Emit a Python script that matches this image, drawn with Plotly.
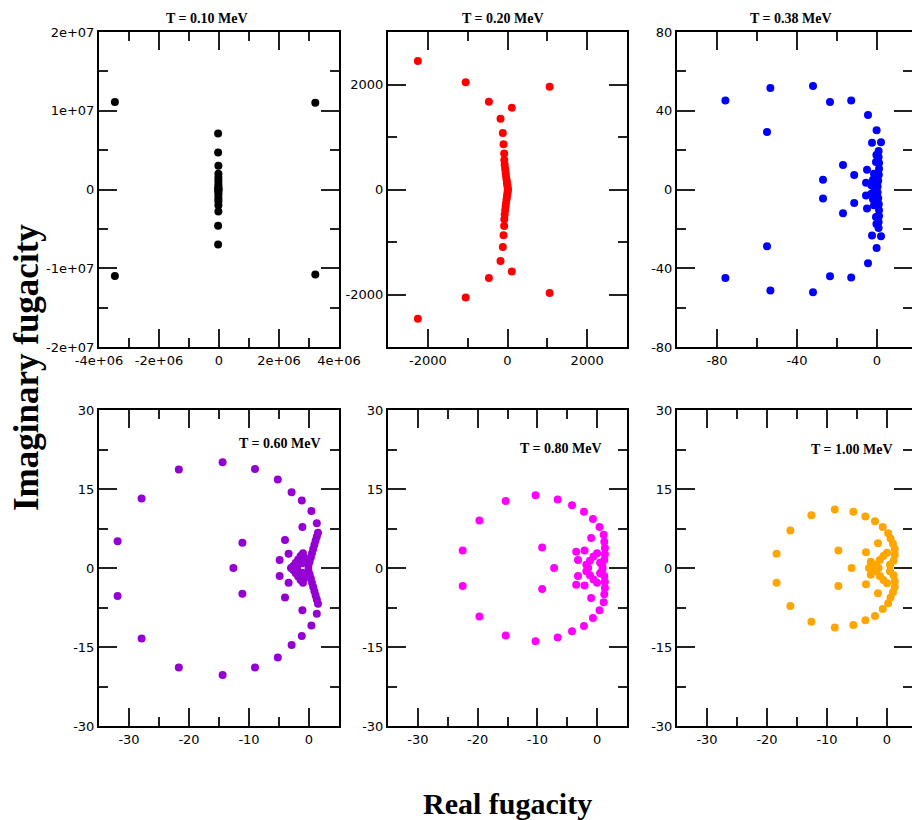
import plotly.graph_objects as go

# ---------------- data ----------------
temps = ["T = 0.10 MeV", "T = 0.20 MeV", "T = 0.38 MeV",
         "T = 0.60 MeV", "T = 0.80 MeV", "T = 1.00 MeV"]
colors = ["#000000", "#ff0000", "#0000ff", "#9400d3", "#ff00ff", "#ffa500"]

re_010 = [-3.47e6, -3.47e6, 3.21e6, 3.21e6,
          -3e4, -3e4, -3e4, -3e4, -2e4, -2e4, -2e4, -2e4, -2e4, -2e4, -2e4, -2e4,
          -2e4, -2e4, -2e4, -2e4, -2e4, -2e4, -2e4, -2e4]
im_010 = [1.11e7, -1.10e7, 1.10e7, -1.08e7,
          7.1e6, -7.0e6, 4.7e6, -4.6e6, 3.0e6, -2.8e6, 2.0e6, -2.0e6,
          1.5e6, -1.5e6, 1.1e6, -1.1e6, 0.7e6, -0.7e6, 0.4e6, -0.4e6,
          0.15e6, -0.15e6, 0.0, 0.0]

re_020 = [-2250, -2250, -1050, -1050, 1058, 1058, -467, -467, 108, 108,
          -175, -175, -117, -117, -100, -100, -83, -83,
          -80, -80, -70, -70, -58, -58, -47, -47, -36, -36, -25, -25,
          -15, -15, -6, -6, 2, 2, 8, 8]
im_020 = [2450, -2460, 2045, -2055, 1955, -1970, 1670, -1685, 1557, -1563,
          1348, -1360, 1076, -1095, 861, -873, 684, -696,
          560, -565, 470, -475, 390, -395, 320, -322, 255, -258, 195, -197,
          140, -142, 92, -94, 50, -50, 15, -15]

re_038 = [-75.8, -75.8, -53.3, -53.3, -55.0, -55.0, -32.0, -32.0, -23.5, -23.5,
          -12.9, -12.9, -4.5, -4.5, -0.2, -0.2, -2.5, -2.5, 2.0, 2.0,
          -27.0, -27.0, -17.0, -17.0, -11.4, -11.4, -5.0, -5.0, -5.5, -5.5,
          0.8, 0.8, 0.8, 0.8, 1.0, 1.0, 1.0, 1.0, 0.9, 0.9, 0.6, 0.6, 0.3, 0.3,
          -1.5, -1.5, -2.0, -2.0, -2.8, -2.8, -1.2, -1.2, -0.5, -0.5, -0.3, -0.3]
im_038 = [45.2, -45.0, 51.6, -51.3, 29.2, -28.8, 52.6, -52.2, 44.4, -44.1,
          45.2, -44.7, 37.8, -37.4, 30.1, -29.7, 23.7, -23.4, 24.0, -23.7,
          4.9, -4.6, 12.4, -12.1, 7.4, -6.9, 10.0, -9.7, 3.4, -3.1,
          19.5, -19.5, 16.5, -16.5, 13.5, -13.5, 10.5, -10.5, 7.5, -7.5,
          4.5, -4.5, 1.5, -1.5,
          8.0, -8.0, 5.0, -5.0, 2.2, -2.2, 0.6, -0.6, 14.0, -14.0, 17.5, -17.5]

re_060 = [-31.9, -31.9, -27.9, -27.9, -21.7, -21.7, -14.4, -14.4, -9.0, -9.0,
          -5.2, -5.2, -2.9, -2.9, -1.2, -1.2, 0.4, 0.4, 1.3, 1.3,
          -1.1, -1.1, -11.1, -11.1, -12.6, -4.0, -4.0, -4.9, -4.9, -3.4, -3.4, -3.0,
          1.5, 1.5, 1.3, 1.3, 1.1, 1.1, 0.9, 0.9, 0.7, 0.7, 0.5, 0.5, 0.3, 0.3,
          0.1, 0.1, -0.1, -0.1,
          -2.6, -2.6, -2.2, -2.2, -1.8, -1.8, -1.4, -1.4, -1.0, -1.0, -0.6, -0.6,
          -2.0, -2.0, -1.2, -1.2]
im_060 = [5.1, -5.3, 13.2, -13.4, 18.7, -18.9, 20.1, -20.3, 18.8, -18.9,
          16.8, -17.0, 14.4, -14.6, 12.8, -12.9, 10.8, -10.9, 8.5, -8.7,
          7.8, -8.0, 4.8, -4.9, 0.0, 5.3, -5.6, 1.5, -1.5, 2.7, -2.8, 0.0,
          6.7, -6.8, 6.0, -6.0, 5.2, -5.2, 4.4, -4.4, 3.6, -3.6, 2.8, -2.8,
          2.0, -2.0, 1.2, -1.2, 0.4, -0.4,
          0.4, -0.4, 1.0, -1.0, 1.6, -1.6, 2.3, -2.3, 2.8, -2.8, 1.8, -1.8,
          0.0, 0.0, 0.9, -0.9]

re_080 = [-22.5, -22.5, -19.7, -19.7, -15.3, -15.3, -10.3, -10.3, -6.6, -6.6,
          -4.2, -4.2, -2.2, -2.2, -0.7, -0.7, 0.4, 0.4, 1.1, 1.1,
          -9.2, -9.2, -7.2, -3.5, -3.5, -3.2, -3.2, -2.1, -2.1, -1.0, -1.0,
          1.2, 1.2, 1.3, 1.3, 1.3, 1.3, 1.2, 1.2,
          -1.8, -1.8, -1.2, -1.2, -0.6, -0.6, 0.0, 0.0, 0.5, 0.5, 0.9, 0.9, -1.5]
im_080 = [3.3, -3.4, 9.0, -9.2, 12.7, -12.8, 13.8, -13.9, 13.0, -13.2,
          11.9, -12.0, 10.7, -11.0, 9.3, -9.5, 7.8, -8.0, 6.3, -6.5,
          3.9, -4.0, 0.0, 3.1, -3.2, 1.5, -1.5, 3.3, -3.3, 5.7, -5.7,
          5.0, -5.0, 3.8, -3.8, 2.6, -2.6, 1.5, -1.5,
          0.6, -0.6, 1.4, -1.4, 2.2, -2.2, 2.8, -2.8, 1.0, -1.0, 0.3, -0.3, 0.0]

re_100 = [-18.4, -18.4, -16.1, -16.1, -12.6, -12.6, -8.7, -8.7, -5.6, -5.6,
          -3.6, -3.6, -2.0, -2.0, -0.7, -0.7, 0.2, 0.2,
          -8.1, -8.1, -5.9, -3.5, -3.5, -1.5, -1.5, -2.7, -2.7, -3.0,
          0.6, 0.6, 1.0, 1.0, 1.3, 1.3, 1.3, 1.3, 1.1, 1.1,
          -1.9, -1.9, -1.2, -1.2, -0.6, -0.6, 0.0, 0.0, 0.5, 0.5, -1.4]
im_100 = [2.7, -2.8, 7.1, -7.2, 10.0, -10.2, 11.1, -11.3, 10.7, -10.8,
          9.8, -9.9, 8.9, -9.1, 7.8, -7.8, 6.6, -6.7,
          3.3, -3.4, 0.0, 3.0, -3.1, 4.7, -4.8, 1.2, -1.3, 0.0,
          5.6, -5.6, 4.6, -4.6, 3.6, -3.6, 2.5, -2.5, 1.4, -1.4,
          0.6, -0.6, 1.5, -1.5, 2.3, -2.3, 2.9, -2.9, 0.6, -0.6, 0.0]

re_series = [re_010, re_020, re_038, re_060, re_080, re_100]
im_series = [im_010, im_020, im_038, im_060, im_080, im_100]

# tick values and labels
x1_vals = [-4e6, -2e6, 0, 2e6, 4e6]
x1_text = ["-4e+06", "-2e+06", "0", "2e+06", "4e+06"]
y1_vals = [-2e7, -1e7, 0, 1e7, 2e7]
y1_text = ["-2e+07", "-1e+07", "0", "1e+07", "2e+07"]
x2_vals = [-2000, 0, 2000]
x2_text = ["-2000", "0", "2000"]
y2_vals = [-2000, 0, 2000]
y2_text = ["-2000", "0", "2000"]
x3_vals = [-80, -40, 0]
x3_text = ["-80", "-40", "0"]
y3_vals = [-80, -40, 0, 40, 80]
y3_text = ["-80", "-40", "0", "40", "80"]
xb_vals = [-30, -20, -10, 0]
xb_text = ["-30", "-20", "-10", "0"]
yb_vals = [-30, -15, 0, 15, 30]
yb_text = ["-30", "-15", "0", "15", "30"]

# ---------------- layout helpers ----------------
W, H = 912, 820


def px_dom_x(a, b):
    return [a / W, min(b / W, 1.0)]


def px_dom_y(top, bottom):
    return [1 - bottom / H, 1 - top / H]


xdoms = [px_dom_x(99, 339), px_dom_x(388, 627), px_dom_x(677, 912)] * 2
ydoms = [px_dom_y(32, 347)] * 3 + [px_dom_y(410, 726)] * 3

xranges = [[-4e6, 4e6], [-3000, 3000], [-100, 17.5],
           [-35, 5], [-35, 5], [-35, 4.17]]
yranges = [[-2e7, 2e7], [-3000, 3000], [-80, 80],
           [-30, 30], [-30, 30], [-30, 30]]
xticks = [(x1_vals, x1_text), (x2_vals, x2_text), (x3_vals, x3_text),
          (xb_vals, xb_text), (xb_vals, xb_text), (xb_vals, xb_text)]
yticks = [(y1_vals, y1_text), (y2_vals, y2_text), (y3_vals, y3_text),
          (yb_vals, yb_text), (yb_vals, yb_text), (yb_vals, yb_text)]
xminor = [1e6, 1000, 20, 5, 5, 5]
yminor = [5e6, 1000, 20, 7.5, 7.5, 7.5]

tickfont = dict(family="DejaVu Sans", size=13, color="black")

fig = go.Figure()
layout = dict(
    width=W, height=H,
    margin=dict(l=0, r=0, t=0, b=0, pad=0, autoexpand=False),
    paper_bgcolor="white", plot_bgcolor="white",
    showlegend=False,
)

for i in range(6):
    n = "" if i == 0 else str(i + 1)
    fig.add_trace(go.Scatter(
        x=re_series[i], y=im_series[i], mode="markers",
        marker=dict(size=8, color=colors[i], line=dict(width=0)),
        xaxis="x" + n, yaxis="y" + n, cliponaxis=True,
    ))
    common = dict(
        showline=True, linecolor="black", linewidth=2, mirror="ticks",
        ticks="inside", ticklen=18, tickwidth=2, tickcolor="#222",
        showgrid=False, zeroline=False, tickfont=tickfont,
        tickmode="array", automargin=False,
    )
    xv, xt = xticks[i]
    xa = dict(common, domain=xdoms[i], range=xranges[i], tickvals=xv, ticktext=xt,
              anchor="y" + n,
              minor=dict(ticks="inside", ticklen=9, tickwidth=2, tickcolor="#222",
                         dtick=xminor[i], tick0=0, showgrid=False))
    yv, yt = yticks[i]
    ya = dict(common, domain=ydoms[i], range=yranges[i], tickvals=yv, ticktext=yt,
              anchor="x" + n,
              minor=dict(ticks="inside", ticklen=9, tickwidth=2, tickcolor="#222",
                         dtick=yminor[i], tick0=0, showgrid=False))
    layout["xaxis" + n] = xa
    layout["yaxis" + n] = ya

title_pos = [(207, 18), (503, 18), (791, 18), (280, 443), (561, 448), (852, 449)]
annotations = []
for (tx, ty), t in zip(title_pos, temps):
    annotations.append(dict(
        text="<b>" + t + "</b>", x=tx / W, y=1 - ty / H, xref="paper", yref="paper",
        xanchor="center", yanchor="middle", showarrow=False,
        font=dict(family="Liberation Serif", size=14, color="black")))

annotations.append(dict(
    text="<b>Real fugacity</b>", x=508 / W, y=1 - 803 / H, xref="paper", yref="paper",
    xanchor="center", yanchor="middle", showarrow=False,
    font=dict(family="Liberation Serif", size=30, color="black")))
annotations.append(dict(
    text="<b>Imaginary fugacity</b>", x=27 / W, y=1 - 368 / H, xref="paper", yref="paper",
    xanchor="center", yanchor="middle", showarrow=False, textangle=-90,
    font=dict(family="Liberation Serif", size=35, color="black")))
layout["annotations"] = annotations

fig.update_layout(**layout)
fig.write_html("out.html")
